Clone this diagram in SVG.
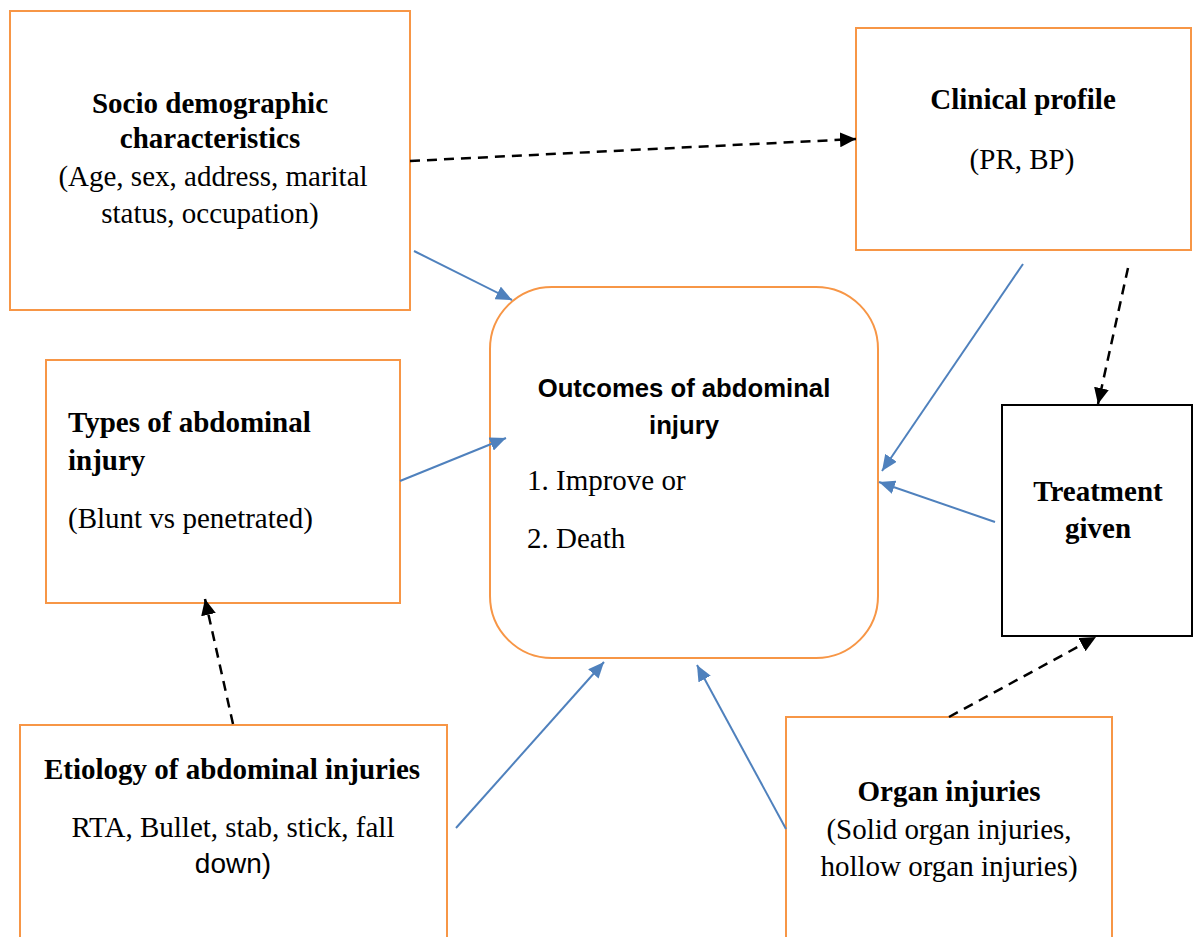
<svg xmlns="http://www.w3.org/2000/svg" width="1194" height="937" viewBox="0 0 1194 937">
<defs>
<style>
.box{fill:#fff;stroke:#F79646;stroke-width:2}
.bbox{fill:#fff;stroke:#000;stroke-width:2}
.t{font-family:"Liberation Serif","Times New Roman",serif;font-size:29px;fill:#000}
.b{font-weight:bold}
.s{font-family:"Liberation Sans",Arial,sans-serif}
.st{font-family:"Liberation Sans",Arial,sans-serif;font-weight:bold;font-size:25.7px;fill:#000}
.sd{font-size:28px}
.blue{stroke:#4F81BD;stroke-width:2;fill:none}
.dash{stroke:#000;stroke-width:2.5;fill:none;stroke-dasharray:10 7}
</style>
<marker id="ab" viewBox="0 0 10 10" refX="10" refY="5" markerWidth="16" markerHeight="14" markerUnits="userSpaceOnUse" orient="auto" preserveAspectRatio="none"><path d="M0,0 L10,5 L0,10 z" fill="#4F81BD"/></marker>
<marker id="ak" viewBox="0 0 10 10" refX="10" refY="5" markerWidth="16" markerHeight="15" markerUnits="userSpaceOnUse" orient="auto" preserveAspectRatio="none"><path d="M0,0 L10,5 L0,10 z" fill="#000"/></marker>
</defs>
<rect width="1194" height="937" fill="#fff"/>
<g id="socio">
<rect class="box" x="10" y="11" width="400" height="299"/>
<text class="t" text-anchor="middle"><tspan class="b" x="210" y="113">Socio demographic</tspan><tspan class="b" x="210" y="148">characteristics</tspan><tspan x="213" y="186">(Age, sex, address, marital</tspan><tspan x="210" y="223">status, occupation)</tspan></text>
</g>
<g id="clinical">
<rect class="box" x="856" y="28" width="335" height="222"/>
<text class="t" text-anchor="middle"><tspan class="b" x="1023" y="109">Clinical profile</tspan><tspan x="1022" y="169">(PR, BP)</tspan></text>
</g>
<g id="types">
<rect class="box" x="46" y="360" width="354" height="243"/>
<text class="t"><tspan class="b" x="68" y="432">Types of abdominal</tspan><tspan class="b" x="68" y="470">injury</tspan><tspan x="68" y="528">(Blunt vs penetrated)</tspan></text>
</g>
<g id="outcome">
<rect class="box" x="490" y="287" width="388" height="371" rx="62" ry="62"/>
<text class="st" text-anchor="middle"><tspan x="684" y="397">Outcomes of abdominal</tspan><tspan x="684" y="434">injury</tspan></text>
<text class="t"><tspan x="527" y="490">1. Improve or</tspan><tspan x="527" y="548">2. Death</tspan></text>
</g>
<g id="treatment">
<rect class="bbox" x="1002" y="405" width="190" height="231"/>
<text class="t b" text-anchor="middle"><tspan x="1098" y="501">Treatment</tspan><tspan x="1098" y="538">given</tspan></text>
</g>
<g id="etiology">
<rect class="box" x="20" y="725" width="427" height="215"/>
<text class="t" text-anchor="middle"><tspan class="b" x="232" y="779">Etiology of abdominal injuries</tspan><tspan x="233" y="837">RTA, Bullet, stab, stick, fall</tspan><tspan class="s sd" x="233" y="873">down)</tspan></text>
</g>
<g id="organ">
<rect class="box" x="786" y="717" width="326" height="230"/>
<text class="t" text-anchor="middle"><tspan class="b" x="949" y="801">Organ injuries</tspan><tspan x="949" y="839">(Solid organ injuries,</tspan><tspan x="949" y="876">hollow organ injuries)</tspan></text>
</g>
<g id="connectors">
<line class="dash" x1="410" y1="161" x2="856" y2="139" marker-end="url(#ak)"/>
<line class="blue" x1="414" y1="251" x2="512" y2="300" marker-end="url(#ab)"/>
<line class="blue" x1="400" y1="481" x2="506" y2="438" marker-end="url(#ab)"/>
<line class="blue" x1="1023" y1="264" x2="882" y2="471" marker-end="url(#ab)"/>
<line class="dash" x1="1128" y1="268" x2="1098" y2="404" marker-end="url(#ak)"/>
<line class="blue" x1="995" y1="522" x2="879" y2="482" marker-end="url(#ab)"/>
<line class="dash" x1="233" y1="724" x2="205" y2="599" marker-end="url(#ak)"/>
<line class="blue" x1="456" y1="828" x2="604" y2="662" marker-end="url(#ab)"/>
<line class="blue" x1="786" y1="829" x2="697" y2="665" marker-end="url(#ab)"/>
<line class="dash" x1="949" y1="717" x2="1096" y2="637" marker-end="url(#ak)"/>
</g>
</svg>
